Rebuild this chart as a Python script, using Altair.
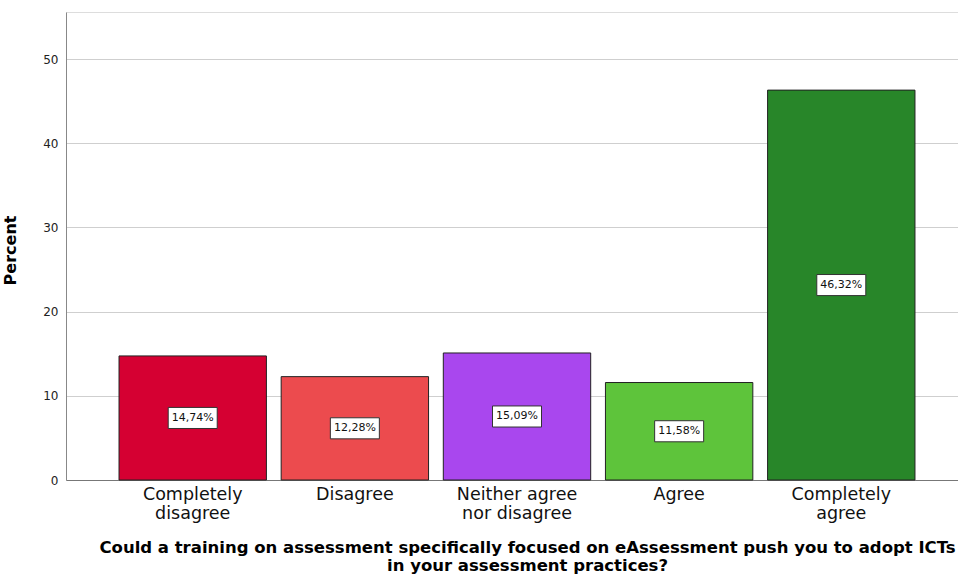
import altair as alt
import pandas as pd

# Survey responses (percent of respondents)
categories = ["Completely\ndisagree", "Disagree", "Neither agree\nnor disagree", "Agree", "Completely\nagree"]
percents = [14.74, 12.28, 15.09, 11.58, 46.32]
colors = ["#D50032", "#EC4B4E", "#A947EE", "#5EC43B", "#288629"]

df = pd.DataFrame({"cat": categories, "pct": percents})

x_enc = alt.X(
    "cat:N",
    sort=categories,
    scale=alt.Scale(range=[0, 902], paddingInner=0.091, paddingOuter=0.327),
    axis=alt.Axis(
        title=["Could a training on assessment specifically focused on eAssessment push you to adopt ICTs",
               "in your assessment practices?"],
        titleFont="DejaVu Sans",
        titleFontWeight="bold",
        titleFontSize=16.5,
        titleColor="#000000",
        titleX=461,
        titleY=59,
        titleBaseline="top",
        titleLineHeight=18.5,
        labelExpr="split(datum.label, '\\n')",
        labelAngle=0,
        labelFont="DejaVu Sans",
        labelFontSize=17.5,
        labelColor="#111111",
        labelLineHeight=19,
        labelPadding=5,
        ticks=False,
        domainColor="#777777",
        domainWidth=1,
        grid=False,
    ),
)

y_scale = alt.Scale(domain=[0, 55.6], nice=False)

bars = alt.Chart(df).mark_bar(stroke="#222222", strokeWidth=1).encode(
    x=x_enc,
    y=alt.Y(
        "pct:Q",
        scale=y_scale,
        axis=alt.Axis(
            title="Percent",
            titleFont="DejaVu Sans",
            titleFontWeight="bold",
            titleFontSize=16,
            titleColor="#000000",
            titleX=-48,
            titleY=238,
            values=[0, 10, 20, 30, 40, 50],
            labelFont="DejaVu Sans",
            labelFontSize=12,
            labelColor="#222222",
            labelPadding=8,
            ticks=False,
            domainColor="#888888",
            gridColor="#cfcfcf",
            gridWidth=1,
        ),
    ),
    color=alt.Color("cat:N", sort=categories,
                    scale=alt.Scale(domain=categories, range=colors), legend=None),
)

base = alt.Chart(df).transform_calculate(
    mid="datum.pct / 2",
    label="replace(format(datum.pct, '.2f'), '.', ',') + '%'",
)

boxes = base.mark_point(
    shape="M-1,-0.43L1,-0.43L1,0.43L-1,0.43Z",
    size=2401,
    filled=True,
    fill="#ffffff",
    stroke="#333333",
    strokeWidth=1,
    opacity=1,
).encode(
    x=alt.X("cat:N", sort=categories),
    y=alt.Y("mid:Q", scale=y_scale),
)

texts = base.mark_text(font="DejaVu Sans", fontSize=11, color="#111111").encode(
    x=alt.X("cat:N", sort=categories),
    y=alt.Y("mid:Q", scale=y_scale),
    text="label:N",
)

chart = alt.layer(bars, boxes, texts).properties(
    width=892,
    height=468,
    padding={"left": 66, "top": 12, "right": 0, "bottom": 99},
    autosize=alt.AutoSizeParams(type="none"),
).configure_view(stroke=None).configure(background="#ffffff")

chart.save("out.html", embed_options={"renderer": "svg", "actions": False})
